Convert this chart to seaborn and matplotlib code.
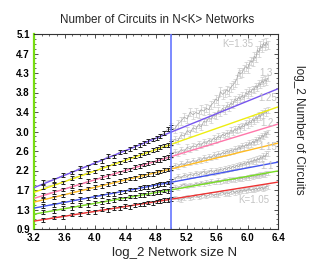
import numpy as np
import pandas as pd
import matplotlib
matplotlib.use("Agg")
import matplotlib.pyplot as plt
from matplotlib.ticker import AutoMinorLocator, FixedLocator
import seaborn as sns

# ---------------- data ----------------
K_labels = ["K=1.05", "1.1", "1.15", "1.2", "1.25", "1.3", "K=1.35"]
colors = ["#ee3333", "#77dd22", "#4455ee", "#ffbb22", "#ff77aa", "#eeee11", "#7755ee"]

# fit lines: values at x=3.2 and x=6.4
fit_x = [3.2, 6.4]
fit_left = [1.07, 1.22, 1.35, 1.48, 1.56, 1.69, 1.79]
fit_right = [1.91, 2.15, 2.34, 2.75, 3.16, 3.53, 3.92]

# small networks N = 10..32 (black points)
N_small = list(range(10, 33))
small_105 = [1.10, 1.15, 1.16, 1.21, 1.22, 1.26, 1.27, 1.33, 1.31, 1.35, 1.35, 1.39, 1.38, 1.42, 1.43, 1.44, 1.47, 1.46, 1.49, 1.50, 1.52, 1.52, 1.55]
small_110 = [1.27, 1.29, 1.35, 1.36, 1.41, 1.42, 1.46, 1.47, 1.51, 1.52, 1.56, 1.56, 1.60, 1.60, 1.63, 1.64, 1.67, 1.67, 1.70, 1.70, 1.73, 1.72, 1.76]
small_115 = [1.40, 1.42, 1.47, 1.50, 1.55, 1.56, 1.60, 1.61, 1.66, 1.66, 1.70, 1.71, 1.75, 1.75, 1.78, 1.80, 1.81, 1.83, 1.85, 1.87, 1.87, 1.90, 1.93]
small_120 = [1.53, 1.58, 1.62, 1.69, 1.72, 1.77, 1.80, 1.82, 1.87, 1.89, 1.93, 1.95, 1.99, 2.00, 2.04, 2.05, 2.08, 2.09, 2.13, 2.14, 2.17, 2.18, 2.21]
small_125 = [1.64, 1.70, 1.75, 1.82, 1.86, 1.93, 1.95, 2.02, 2.04, 2.10, 2.12, 2.17, 2.18, 2.24, 2.25, 2.29, 2.32, 2.33, 2.38, 2.39, 2.43, 2.45, 2.50]
small_130 = [1.80, 1.85, 1.90, 2.00, 2.04, 2.12, 2.14, 2.22, 2.24, 2.31, 2.33, 2.39, 2.41, 2.46, 2.49, 2.53, 2.55, 2.60, 2.62, 2.66, 2.70, 2.71, 2.76]
small_135 = [1.92, 1.96, 2.06, 2.12, 2.22, 2.24, 2.33, 2.36, 2.47, 2.46, 2.56, 2.57, 2.62, 2.66, 2.71, 2.75, 2.79, 2.83, 2.86, 2.90, 2.97, 3.05, 3.10]

# large networks N = 32..77 (gray points)
N_large = list(range(32, 78))
large_105 = [1.55, 1.58, 1.54, 1.52, 1.57, 1.60, 1.56, 1.59, 1.62, 1.58, 1.61, 1.64, 1.60, 1.63, 1.66, 1.62, 1.65, 1.63, 1.67, 1.69, 1.65, 1.68, 1.66, 1.70, 1.72, 1.68, 1.71, 1.69, 1.73, 1.71, 1.75, 1.72, 1.74, 1.77, 1.73, 1.76, 1.74, 1.78, 1.75, 1.79, 1.77, 1.80, 1.76, 1.79, 1.82, 1.81]
large_110 = [1.76, 1.80, 1.78, 1.83, 1.86, 1.82, 1.85, 1.84, 1.88, 1.86, 1.90, 1.87, 1.91, 1.89, 1.93, 1.90, 1.92, 1.95, 1.91, 1.94, 1.96, 1.93, 1.97, 1.95, 1.98, 1.96, 1.99, 1.97, 2.00, 1.98, 2.01, 1.99, 2.03, 2.00, 2.04, 2.02, 2.05, 2.03, 2.06, 2.04, 2.08, 2.05, 2.09, 2.07, 2.11, 2.10]
large_115 = [1.93, 1.98, 2.04, 2.00, 2.06, 2.03, 2.08, 2.05, 2.11, 2.07, 2.10, 2.14, 2.09, 2.13, 2.16, 2.12, 2.17, 2.14, 2.19, 2.16, 2.21, 2.18, 2.23, 2.20, 2.25, 2.22, 2.27, 2.24, 2.30, 2.27, 2.32, 2.29, 2.35, 2.31, 2.37, 2.34, 2.40, 2.36, 2.42, 2.39, 2.45, 2.42, 2.48, 2.45, 2.52, 2.53]
large_120 = [2.21, 2.27, 2.24, 2.31, 2.28, 2.35, 2.32, 2.38, 2.34, 2.41, 2.37, 2.44, 2.40, 2.46, 2.43, 2.50, 2.46, 2.52, 2.49, 2.55, 2.52, 2.58, 2.55, 2.60, 2.57, 2.63, 2.60, 2.67, 2.63, 2.70, 2.66, 2.72, 2.69, 2.76, 2.72, 2.79, 2.75, 2.83, 2.79, 2.87, 2.84, 2.92, 2.88, 2.96, 2.93, 2.99]
large_125 = [2.50, 2.56, 2.53, 2.61, 2.57, 2.66, 2.62, 2.69, 2.67, 2.74, 2.70, 2.78, 2.74, 2.81, 2.78, 2.86, 2.82, 2.90, 2.86, 2.94, 2.91, 2.97, 2.94, 3.03, 2.98, 3.06, 3.02, 3.11, 3.06, 3.13, 3.10, 3.19, 3.14, 3.22, 3.18, 3.27, 3.22, 3.31, 3.27, 3.36, 3.31, 3.41, 3.36, 3.45, 3.40, 3.46]
large_130 = [2.76, 2.83, 2.80, 2.93, 2.90, 3.02, 2.97, 3.08, 3.05, 3.15, 3.10, 3.22, 3.20, 3.30, 3.26, 3.35, 3.33, 3.45, 3.40, 3.50, 3.45, 3.56, 3.52, 3.62, 3.58, 3.70, 3.66, 3.74, 3.70, 3.78, 3.72, 3.84, 3.80, 3.88, 3.84, 3.92, 3.90, 3.98, 3.94, 4.04, 4.00, 4.10, 4.05, 4.12, 4.08, 4.15]
large_135 = [3.10, 3.05, 3.16, 3.22, 3.31, 3.27, 3.42, 3.36, 3.41, 3.38, 3.47, 3.44, 3.50, 3.47, 3.57, 3.62, 3.70, 3.66, 3.86, 3.80, 3.83, 3.90, 3.86, 3.95, 4.00, 4.05, 4.12, 4.28, 4.24, 4.27, 4.35, 4.40, 4.36, 4.45, 4.52, 4.49, 4.62, 4.58, 4.76, 4.70, 4.85, 4.80, 4.90, 4.84, 4.92, 4.86]

small_err = 0.04
large_err = [0.04, 0.04, 0.05, 0.05, 0.06, 0.07, 0.09]

# label positions (x, y) for the K text
label_x = [6.08, 6.26, 6.26, 6.26, 6.26, 6.24, 5.87]
label_y = [1.52, 2.26, 2.67, 3.18, 3.72, 4.25, 4.88]

small_all = [small_105, small_110, small_115, small_120, small_125, small_130, small_135]
large_all = [large_105, large_110, large_115, large_120, large_125, large_130, large_135]

x_ticks = [3.2, 3.6, 4.0, 4.4, 4.8, 5.2, 5.6, 6.0, 6.4]
y_ticks = [0.9, 1.32, 1.74, 2.16, 2.58, 3.0, 3.42, 3.84, 4.26, 4.68, 5.1]
y_ticklabels = ["0.9", "1.3", "1.7", "2.2", "2.6", "3.0", "3.4", "3.8", "4.3", "4.7", "5.1"]
split_x = 5.0

# ---------------- plotting ----------------
sns.set_theme(style="ticks")
plt.rcParams["font.family"] = ["Liberation Sans", "DejaVu Sans"]

fig = plt.figure(figsize=(3.14, 2.62), dpi=100)
ax = fig.add_axes([34 / 314, 33 / 262, 244 / 314, 195 / 262])

xs_small = np.log2(N_small)
xs_large = np.log2(N_large)

# gray large-N data
for i in range(7):
    ax.errorbar(xs_large, large_all[i], yerr=large_err[i], fmt="none",
                ecolor="#cccccc", elinewidth=0.5, capsize=1.2, capthick=0.5, zorder=2)
    sns.lineplot(x=xs_large, y=large_all[i], color="#a8a8a8", linewidth=0.55,
                 estimator=None, ax=ax, zorder=2)

# small-N data with black error bars
for i in range(7):
    sns.lineplot(x=xs_small, y=small_all[i], color="#bbbbbb", linewidth=0.6,
                 estimator=None, ax=ax, zorder=2)
    ax.errorbar(xs_small, small_all[i], yerr=small_err, fmt="none",
                ecolor="#222222", elinewidth=0.7, capsize=1.3, capthick=0.7, zorder=4)

# fit lines
fit_df = pd.DataFrame({
    "x": fit_x * 7,
    "y": [v for l, r in zip(fit_left, fit_right) for v in (l, r)],
    "K": [k for k in K_labels for _ in range(2)],
})
sns.lineplot(data=fit_df, x="x", y="y", hue="K", palette=dict(zip(K_labels, colors)),
             linewidth=1.0, legend=False, ax=ax, zorder=3)

ax.axvline(split_x, color="#6677ff", linewidth=1.2, zorder=5)

for i in range(7):
    ax.text(label_x[i], label_y[i], K_labels[i], color="#c4c4c4", fontsize=7,
            ha="center", va="center", zorder=6)

ax.set_xlim(3.2, 6.4)
ax.set_ylim(0.9, 5.1)
ax.xaxis.set_major_locator(FixedLocator(x_ticks))
ax.set_xticklabels([f"{v:.1f}" for v in x_ticks])
ax.yaxis.set_major_locator(FixedLocator(y_ticks))
ax.set_yticklabels(y_ticklabels)
ax.xaxis.set_minor_locator(AutoMinorLocator(4))
ax.yaxis.set_minor_locator(AutoMinorLocator(4))
ax.tick_params(which="both", direction="in", top=True, right=True, colors="#333333",
               labelsize=7, pad=3, labelcolor="black")
ax.tick_params(which="major", length=3, width=0.6)
ax.tick_params(which="minor", length=1.6, width=0.5)
for lab in ax.get_xticklabels() + ax.get_yticklabels():
    lab.set_fontweight("bold")

for s in ["top", "right", "bottom"]:
    ax.spines[s].set_color("#333333")
    ax.spines[s].set_linewidth(0.8)
ax.spines["left"].set_color("#77dd11")
ax.spines["left"].set_linewidth(1.6)

ax.set_xlabel("")
ax.set_ylabel("")

fig.text(157 / 314, 1 - 20 / 262, "Number of Circuits in N<K> Networks",
         fontsize=8.4, ha="center", va="center")
fig.text(175 / 314, 1 - 253 / 262, "log_2 Network size N", fontsize=9.5,
         ha="center", va="center")
fig.text(299 / 314, 1 - 130 / 262, "log_2 Number of Circuits", fontsize=8.5,
         ha="center", va="center", rotation=-90)

fig.savefig("out.png", dpi=100)
